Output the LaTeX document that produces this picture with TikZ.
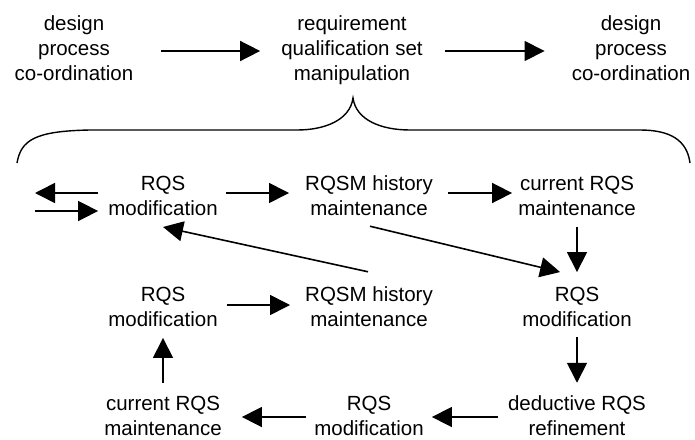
\documentclass[tikz,border=0pt]{standalone}
\usepackage{fontspec}
\setmainfont{Liberation Sans}
\usetikzlibrary{arrows.meta}
\begin{document}
\begin{tikzpicture}[x=1pt, y=-1pt,
                        txt/.style={align=center, inner sep=0pt, font=\fontsize{20.5}{25}\selectfont},
                        arr/.style={line width=1.6pt, -{Triangle[length=20pt,width=20pt]}, shorten <=10pt, shorten >=10pt}]
                        \useasboundingbox (0,0) rectangle (695,439);
                        % top row
                        \node[txt] (dpcA) at (74,48) {design\\process\\co-ordination};
                        \node[txt] (rqsm) at (352,50) {requirement\\qualification set\\manipulation};
                        \node[txt] (dpcB) at (631,48) {design\\process\\co-ordination};
                        \coordinate (lvl) at (0,51);
                        \draw[arr, shorten <=28pt, shorten >=21pt] (dpcA.east |- lvl) -- (rqsm.west |- lvl);
                        \draw[arr, shorten <=22pt, shorten >=27pt] (rqsm.east |- lvl) -- (dpcB.west |- lvl);
                        % brace
                        \draw[line width=1.4pt] (17,163) .. controls (21,140) and (35,131) .. (90,130) -- (297,130)
                            .. controls (325,130) and (350,120) .. (353,98) .. controls (356,120) and (381,130) .. (410,130)
                            -- (640,130) .. controls (670,130) and (687,140) .. (690,163);
                        % expanded process
                        \node[txt] (modA) at (163,196) {RQS\\modification};
                        \node[txt] (histA) at (369,196) {RQSM history\\maintenance};
                        \node[txt] (curA) at (577,196) {current RQS\\maintenance};
                        \node[txt] (modB) at (577,307) {RQS\\modification};
                        \node[txt] (ded) at (577,416) {deductive RQS\\refinement};
                        \node[txt] (modD) at (369,416) {RQS\\modification};
                        \node[txt] (curB) at (163,416) {current RQS\\maintenance};
                        \node[txt] (modC) at (163,307) {RQS\\modification};
                        \node[txt] (histB) at (369,307) {RQSM history\\maintenance};
                        \coordinate (inA) at (35,193);
                        \coordinate (inB) at (35,211);
                        \draw[arr, shorten >=0pt] (modA.west |- inA) -- (inA);
                        \draw[arr, shorten <=0pt] (inB) -- (modA.west |- inB);
                        \draw[arr, shorten <=8pt, shorten >=16pt] ([yshift=3pt]modA.east) -- ([yshift=3pt]histA.west);
                        \draw[arr, shorten <=15pt, shorten >=6pt] ([yshift=3pt]histA.east) -- ([yshift=3pt]curA.west);
                        \draw[arr, shorten <=11pt, shorten >=15pt] (curA) -- (modB);
                        \draw[arr, shorten >=13pt] (modB) -- (ded);
                        \draw[arr, shorten >=8pt] ([yshift=-1pt]ded.west) -- ([yshift=-1pt]modD.east);
                        \draw[arr, shorten <=8pt, shorten >=20pt] ([yshift=-1pt]modD.west) -- ([yshift=-1pt]curB.east);
                        \draw[arr, shorten <=13pt, shorten >=11pt] (curB) -- (modC);
                        \draw[arr, shorten <=9pt, shorten >=15pt] ([yshift=2pt]modC.east) -- ([yshift=2pt]histB.west);
                        \draw[arr, shorten <=0pt, shorten >=0pt] ([xshift=1pt,yshift=-10pt]histA.south) -- ([xshift=38pt,yshift=15pt]modB.north west);
                        \draw[arr, shorten <=0pt, shorten >=0pt] ([xshift=-1pt,yshift=15pt]histB.north) -- ([yshift=-11pt]modA.south);
                    \end{tikzpicture}
\end{document}
